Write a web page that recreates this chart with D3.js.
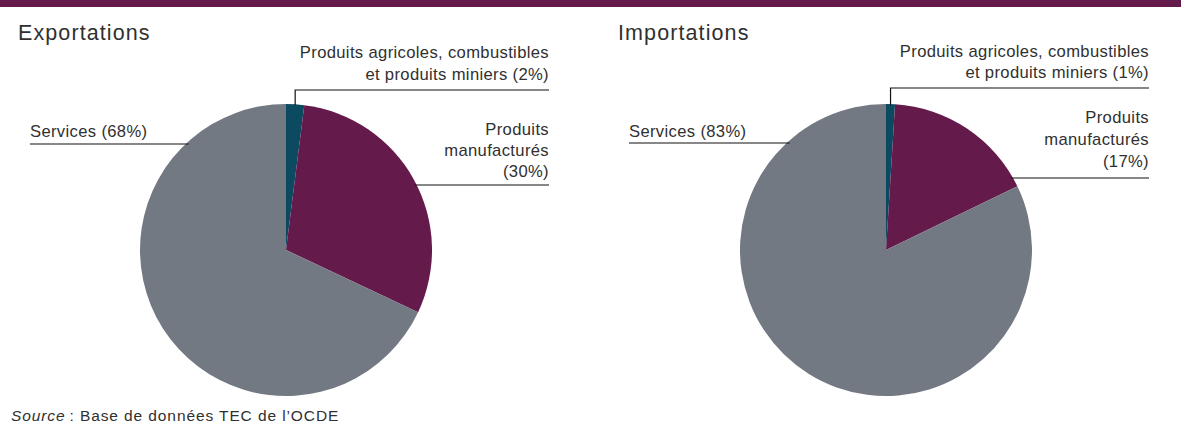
<!DOCTYPE html>
<html lang="fr">
<head>
<meta charset="utf-8">
<script src="https://cdn.jsdelivr.net/npm/d3@7"></script>
<style>
  html, body { margin: 0; padding: 0; background: #fff; }
  svg { display: block; font-family: "Liberation Sans", Arial, sans-serif; }
</style>
</head>
<body>
<svg id="chart" width="1181" height="436"></svg>
<script>
// Composition of trade, by broad category (%)
const categories = ["Produits agricoles, combustibles et produits miniers", "Produits manufacturés", "Services"];
const exportValues = [2, 30, 68];
const importValues = [1, 17, 83];
const panelTitles = ["Exportations", "Importations"];

const colors = d3.scaleOrdinal()
  .domain(categories)
  .range(["#0c4a62", "#651a4c", "#737983"]);

const svg = d3.select("#chart");
const W = 1181, H = 436;
const textColor = "#303030";

// top band
svg.append("rect").attr("x", 0).attr("y", 0).attr("width", W).attr("height", 7).attr("fill", "#651a4c");

const radius = 146;
const pie = d3.pie().sort(null).value(d => d.value);
const arc = d3.arc().innerRadius(0).outerRadius(radius);

const panels = [
  { title: panelTitles[0], values: exportValues, x0: 0, cx: 286, labelRight: 549, servicesX: 30,
    agriLineY: 90, agriTextY: [58, 80], manufLineY: 185, manufTextY: [135, 156, 177], servicesLineY: 144 },
  { title: panelTitles[1], values: importValues, x0: 600, cx: 886, labelRight: 1149, servicesX: 629,
    agriLineY: 88, agriTextY: [57, 78], manufLineY: 178, manufTextY: [123, 145, 167], servicesLineY: 143 }
];
const cy = 250;

panels.forEach(p => {
  const data = categories.map((c, i) => ({ cat: c, value: p.values[i] }));
  const arcs = pie(data);

  svg.append("text")
    .attr("x", p.x0 + 18).attr("y", 40)
    .attr("font-size", 21.5).attr("letter-spacing", 1.1).attr("fill", textColor)
    .text(p.title);

  const g = svg.append("g").attr("transform", `translate(${p.cx},${cy})`);
  g.selectAll("path").data(arcs).join("path")
    .attr("d", arc)
    .attr("fill", d => colors(d.data.cat));

  const lineG = svg.append("g").attr("stroke", "#111").attr("stroke-width", 1.2).attr("fill", "none");

  // agricultural slice: vertical leader from the slice's mid-angle on the rim
  const a0 = arcs[0];
  const mid = (a0.startAngle + a0.endAngle) / 2;
  const ax = p.cx + radius * Math.sin(mid);
  const ay = cy - radius * Math.cos(mid);
  lineG.append("path").attr("d", `M${ax},${ay + 1}V${p.agriLineY}H${p.labelRight}`);

  // manufactured slice: horizontal leader meeting the rim
  const dyM = cy - p.manufLineY;
  const mx = p.cx + Math.sqrt(radius * radius - dyM * dyM);
  lineG.append("path").attr("d", `M${mx - 2},${p.manufLineY}H${p.labelRight}`);

  // services slice: horizontal leader on the left
  const dyS = cy - p.servicesLineY;
  const sx = p.cx - Math.sqrt(radius * radius - dyS * dyS);
  lineG.append("path").attr("d", `M${p.servicesX},${p.servicesLineY}H${sx + 3}`);

  const label = (x, y, t, anchor) => svg.append("text")
    .attr("x", x).attr("y", y).attr("text-anchor", anchor)
    .attr("font-size", 16.6).attr("letter-spacing", 0.35).attr("fill", textColor).text(t);

  const agriLines = ["Produits agricoles, combustibles", `et produits miniers (${p.values[0]}%)`];
  agriLines.forEach((t, i) => label(p.labelRight, p.agriTextY[i], t, "end"));
  const manufLines = ["Produits", "manufacturés", `(${p.values[1]}%)`];
  manufLines.forEach((t, i) => label(p.labelRight, p.manufTextY[i], t, "end"));
  label(p.servicesX, 137, `Services (${p.values[2]}%)`, "start");
});

// source note
const src = svg.append("text").attr("x", 11).attr("y", 421)
  .attr("font-size", 15.5).attr("letter-spacing", 0.9).attr("fill", textColor);
src.append("tspan").attr("font-style", "italic").text("Source");
src.append("tspan").text("\u202F: Base de données TEC de l’OCDE");
</script>
</body>
</html>
